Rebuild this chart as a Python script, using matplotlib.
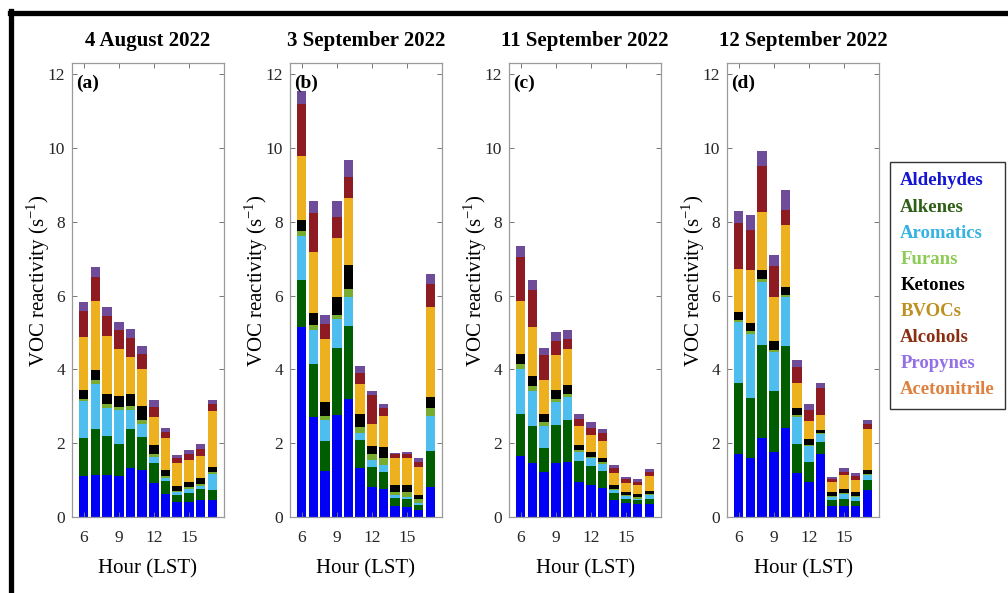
import numpy as np
import matplotlib
matplotlib.use("Agg")
import matplotlib.pyplot as plt
from matplotlib.lines import Line2D

plt.rcParams['font.family'] = ['Liberation Serif', 'DejaVu Serif']
plt.rcParams['mathtext.fontset'] = 'custom'
plt.rcParams['mathtext.rm'] = 'Liberation Serif'

hours = list(range(6, 18))
titles = ["4 August 2022", "3 September 2022", "11 September 2022", "12 September 2022"]
panel_tags = ["(a)", "(b)", "(c)", "(d)"]
species = ["Aldehydes", "Alkenes", "Aromatics", "Furans", "Ketones",
           "BVOCs", "Alcohols", "Propynes", "Acetonitrile"]

# one row per day (a, b, c, d), one value per hour 6..17, in s^-1
aldehydes = [[1.12, 1.14, 1.15, 1.11, 1.32, 1.27, 0.93, 0.61, 0.41, 0.41, 0.45, 0.46],
             [5.16, 2.71, 1.24, 2.76, 3.21, 1.33, 0.82, 0.75, 0.30, 0.28, 0.19, 0.80],
             [1.65, 1.47, 1.21, 1.47, 1.50, 0.95, 0.86, 0.79, 0.46, 0.37, 0.34, 0.34],
             [1.70, 1.61, 2.15, 1.77, 2.40, 1.18, 0.95, 1.70, 0.30, 0.31, 0.30, 0.73]]
alkenes = [[1.01, 1.24, 1.05, 0.86, 1.06, 0.90, 0.54, 0.36, 0.18, 0.25, 0.30, 0.27],
           [1.25, 1.43, 0.81, 1.82, 1.97, 0.75, 0.54, 0.48, 0.22, 0.22, 0.13, 0.99],
           [1.13, 0.99, 0.66, 1.02, 1.12, 0.57, 0.52, 0.46, 0.18, 0.13, 0.12, 0.14],
           [1.93, 1.62, 2.50, 1.64, 2.22, 0.79, 0.55, 0.32, 0.16, 0.18, 0.14, 0.27]]
aromatics = [[1.01, 1.23, 0.76, 0.93, 0.52, 0.36, 0.16, 0.09, 0.08, 0.11, 0.10, 0.43],
             [1.21, 0.93, 0.57, 0.78, 0.77, 0.20, 0.18, 0.18, 0.07, 0.05, 0.07, 0.95],
             [1.24, 0.95, 0.60, 0.62, 0.63, 0.25, 0.21, 0.18, 0.09, 0.07, 0.04, 0.11],
             [1.65, 1.73, 1.71, 1.05, 1.35, 0.74, 0.42, 0.22, 0.09, 0.13, 0.11, 0.14]]
furans = [[0.07, 0.09, 0.09, 0.08, 0.11, 0.10, 0.09, 0.05, 0.04, 0.05, 0.05, 0.05],
          [0.14, 0.12, 0.11, 0.12, 0.22, 0.16, 0.18, 0.19, 0.09, 0.13, 0.09, 0.21],
          [0.13, 0.14, 0.11, 0.10, 0.09, 0.04, 0.04, 0.05, 0.03, 0.02, 0.03, 0.03],
          [0.07, 0.09, 0.09, 0.07, 0.05, 0.05, 0.04, 0.04, 0.03, 0.04, 0.03, 0.02]]
ketones = [[0.22, 0.27, 0.27, 0.30, 0.33, 0.37, 0.24, 0.16, 0.13, 0.12, 0.15, 0.15],
           [0.29, 0.33, 0.39, 0.47, 0.66, 0.36, 0.20, 0.30, 0.20, 0.20, 0.11, 0.30],
           [0.27, 0.27, 0.22, 0.22, 0.23, 0.15, 0.14, 0.13, 0.10, 0.09, 0.09, 0.09],
           [0.20, 0.20, 0.24, 0.25, 0.22, 0.18, 0.14, 0.09, 0.09, 0.09, 0.09, 0.11]]
bvocs = [[1.45, 1.88, 1.58, 1.28, 0.99, 1.02, 0.75, 0.86, 0.61, 0.60, 0.60, 1.50],
         [1.72, 1.65, 1.71, 1.61, 1.81, 0.79, 0.61, 0.83, 0.72, 0.72, 0.77, 2.43],
         [1.42, 1.32, 0.90, 0.95, 0.99, 0.51, 0.45, 0.45, 0.34, 0.23, 0.24, 0.40],
         [1.17, 1.45, 1.56, 1.17, 1.67, 0.69, 0.50, 0.39, 0.27, 0.40, 0.33, 1.11]]
alcohols = [[0.69, 0.65, 0.55, 0.51, 0.52, 0.40, 0.27, 0.18, 0.16, 0.16, 0.20, 0.20],
            [1.43, 1.06, 0.40, 0.56, 0.56, 0.32, 0.77, 0.21, 0.12, 0.12, 0.12, 0.64],
            [1.20, 1.01, 0.68, 0.40, 0.27, 0.18, 0.20, 0.22, 0.14, 0.11, 0.09, 0.12],
            [1.24, 1.08, 1.25, 0.86, 0.41, 0.43, 0.29, 0.74, 0.09, 0.08, 0.12, 0.15]]
propynes = [[0.25, 0.28, 0.25, 0.22, 0.25, 0.21, 0.18, 0.11, 0.07, 0.11, 0.12, 0.10],
            [0.34, 0.32, 0.23, 0.43, 0.48, 0.18, 0.11, 0.11, 0.02, 0.04, 0.13, 0.27],
            [0.31, 0.27, 0.20, 0.23, 0.24, 0.15, 0.16, 0.11, 0.07, 0.07, 0.07, 0.06],
            [0.34, 0.40, 0.42, 0.30, 0.54, 0.20, 0.16, 0.13, 0.06, 0.09, 0.06, 0.11]]
acetonitrile = [[0.0] * 12, [0.0] * 12, [0.0] * 12, [0.0] * 12]

series = [aldehydes, alkenes, aromatics, furans, ketones, bvocs, alcohols, propynes, acetonitrile]
bar_colors = ["#0000F5", "#005E00", "#4DBEEE", "#77AC30", "#000000",
              "#EDB120", "#8E1B22", "#6E4C9A", "#D95319"]
text_colors = ["#1414D2", "#2F5F16", "#36B2E2", "#8CCB55", "#000000",
               "#BE9020", "#8A2E12", "#9370E6", "#E0803E"]

W, H = 1008, 593
fig = plt.figure(figsize=(W / 100, H / 100), dpi=100)

lefts = [72, 290, 509, 727]
ax_w, top, bot = 152, 63, 517

for k in range(4):
    ax = fig.add_axes([lefts[k] / W, (H - bot) / H, ax_w / W, (bot - top) / H])
    bottom = np.zeros(len(hours))
    for s, c in zip(series, bar_colors):
        vals = np.array(s[k])
        ax.bar(hours, vals, width=0.82, bottom=bottom, color=c,
               edgecolor='none', linewidth=0)
        bottom += vals
    ax.set_xlim(5, 18)
    ax.set_ylim(0, 12.3)
    ax.set_xticks([6, 9, 12, 15])
    ax.set_yticks(range(0, 13, 2))
    ax.tick_params(direction='in', length=3.5, width=0.7, color='#777777',
                   labelsize=12.5, labelcolor='#262626', top=True, right=True, pad=5)
    ax.tick_params(axis='x', pad=9)
    for sp in ax.spines.values():
        sp.set_color('#9a9a9a')
        sp.set_linewidth(0.9)
    ax.set_title(titles[k], fontsize=15, fontweight='bold', pad=12)
    ax.text(0.03, 0.975, panel_tags[k], transform=ax.transAxes, fontsize=14,
            fontweight='bold', va='top', ha='left')
    ax.set_xlabel("Hour (LST)", fontsize=15, labelpad=10)
    ax.set_ylabel("VOC reactivity (s$^{-1}$)", fontsize=15)
    ax.yaxis.set_label_coords(-0.13, 0.52)

# text-only legend box
handles = [plt.Rectangle((0, 0), 1, 1, color=c) for c in bar_colors]
leg = fig.legend(handles, species, loc='upper left',
                 bbox_to_anchor=(890 / W, 1 - 162 / H), borderaxespad=0,
                 frameon=True, handlelength=0, handletextpad=0, borderpad=0.55,
                 labelspacing=0.48, prop={'weight': 'bold', 'size': 13.5},
                 fancybox=False, edgecolor='black')
leg.get_frame().set_linewidth(1.0)
for h in leg.legend_handles:
    h.set_visible(False)
for t, c in zip(leg.get_texts(), text_colors):
    t.set_color(c)

# thick black frame on top and left edges
fig.add_artist(Line2D([10 / W, 1.0], [1 - 12.5 / H, 1 - 12.5 / H],
                      color='black', linewidth=3.8, transform=fig.transFigure))
fig.add_artist(Line2D([10.5 / W, 10.5 / W], [0, 1 - 10.5 / H],
                      color='black', linewidth=3.8, transform=fig.transFigure))

fig.savefig("out.png", dpi=100)
